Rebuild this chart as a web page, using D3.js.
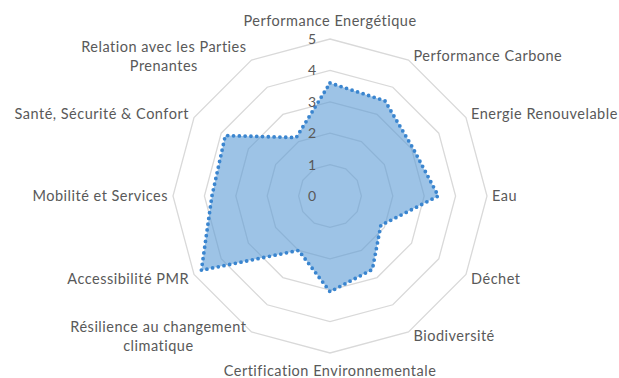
<!DOCTYPE html>
<html>
<head>
<meta charset="utf-8">
<script src="https://cdn.jsdelivr.net/npm/d3@7"></script>
<style>
  html, body { margin: 0; padding: 0; background: #fff; }
  svg { display: block; }
</style>
</head>
<body>
<svg id="chart" width="619" height="378"></svg>
<script>
const categories = [
  ["Performance Energétique"],
  ["Performance Carbone"],
  ["Energie Renouvelable"],
  ["Eau"],
  ["Déchet"],
  ["Biodiversité"],
  ["Certification Environnementale"],
  ["Résilience au changement", "climatique"],
  ["Accessibilité PMR"],
  ["Mobilité et Services"],
  ["Santé, Sécurité & Confort"],
  ["Relation avec les Parties", "Prenantes"]
];
const values = [3.6, 3.5, 3.05, 3.45, 1.87, 2.7, 3.05, 2.0, 4.73, 3.76, 3.85, 2.15];
const tickLabels = [0, 1, 2, 3, 4, 5];

const svg = d3.select("#chart");
const cx = 330, cy = 196, R = 157;
const font = "Lato, 'Open Sans', sans-serif";
const textColor = "#595959";

const n = categories.length;
const angle = d3.scaleLinear().domain([0, n]).range([0, 2 * Math.PI]);
const r = d3.scaleLinear().domain([0, 5]).range([0, R]);

const g = svg.append("g").attr("transform", `translate(${cx},${cy})`);

const pt = (i, v) => {
  const a = angle(i);
  return [r(v) * Math.sin(a), -r(v) * Math.cos(a)];
};

// grid rings
const ringLine = d3.line().curve(d3.curveLinearClosed);
tickLabels.filter(t => t > 0).forEach(t => {
  g.append("path")
    .attr("d", ringLine(d3.range(n).map(i => pt(i, t))))
    .attr("fill", "none")
    .attr("stroke", "#d9d9d9")
    .attr("stroke-width", 1.3);
});

// data area
const area = d3.line().curve(d3.curveLinearClosed);
const dataPts = values.map((v, i) => pt(i, v));
g.append("path")
  .attr("d", area(dataPts))
  .attr("fill", "rgba(91,155,213,0.6)")
  .attr("stroke", "none");
g.append("path")
  .attr("d", area(dataPts))
  .attr("fill", "none")
  .attr("stroke", "#3a85cf")
  .attr("stroke-width", 3.8)
  .attr("stroke-linecap", "round")
  .attr("stroke-dasharray", "0 5.8");

// tick labels
tickLabels.forEach(t => {
  g.append("text")
    .attr("x", -14)
    .attr("y", -r(t))
    .attr("dy", "0.35em")
    .attr("text-anchor", "end")
    .attr("font-family", font)
    .attr("font-size", 14)
    .attr("fill", textColor)
    .text(t);
});

// category labels
const lineH = 19;
categories.forEach((lines, i) => {
  const [vx, vy] = pt(i, 5);
  const a = angle(i);
  const s = Math.sin(a), c = Math.cos(a);
  const t = g.append("text")
    .attr("font-family", font)
    .attr("font-size", 14.5)
    .attr("letter-spacing", 0.5)
    .attr("fill", textColor)
    .attr("text-anchor", "middle");
  lines.forEach((ln, k) => {
    t.append("tspan").attr("x", 0).attr("y", k * lineH).attr("dy", "0.35em").text(ln);
  });
  const bb = t.node().getBBox();
  const blockH = (lines.length - 1) * lineH;
  let x, y;
  if (Math.abs(s) < 0.01) {
    x = vx;
    y = c > 0 ? vy - 18 : vy + 17.5;
  } else {
    const half = bb.width / 2;
    x = s > 0 ? vx + 5 + half : vx - 5 - half;
    y = vy + (Math.abs(c) < 0.01 ? 0 : (c > 0 ? -4 : 4));
  }
  t.attr("transform", `translate(${x},${y - blockH / 2})`);
});
</script>
</body>
</html>
